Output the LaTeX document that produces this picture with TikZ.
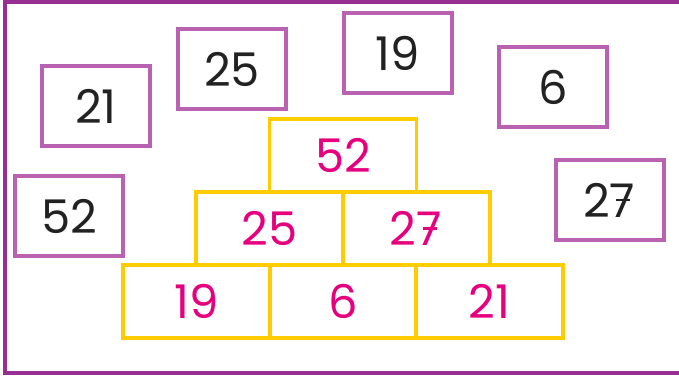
\documentclass[tikz,border=0pt]{standalone}
\usepackage{fontspec}
\setmainfont{Poppins}
\usepackage{xcolor}
\usepackage{tikz}
\usetikzlibrary{positioning}
\definecolor{framepurple}{HTML}{982F92}
\definecolor{cardpurple}{HTML}{BA62B2}
\definecolor{pyryellow}{HTML}{FFCC00}
\definecolor{numpink}{HTML}{E6007E}
\definecolor{numblack}{HTML}{222222}
\newcommand{\barseven}{\rlap{7}\kern0.14em\rule[0.34em]{0.30em}{0.05em}\kern0.14em}
\tikzset{
  cardbox/.style={draw=cardpurple, line width=2.2pt, minimum width=2.7cm, minimum height=2.0cm, inner sep=0pt, text=numblack, font=\fontsize{33}{33}\selectfont},
  pyrbox/.style={draw=pyryellow, line width=2.3pt, minimum width=3.675cm, minimum height=1.825cm, inner sep=0pt, text=numpink, font=\fontsize{33}{33}\selectfont},
  frameline/.style={draw=framepurple, line width=2.4pt}
}
\begin{document}
\begin{tikzpicture}[x=0.025cm,y=-0.025cm]
\useasboundingbox (0,0) rectangle (679,377);
\draw[frameline] (679,2) -- (5,2) -- (5,373) -- (679,373);
% loose cards
\node[cardbox] (c21) at (96,106) {21};
\node[cardbox] (c25) at (232,69) {25};
\node[cardbox] (c19) at (398,53) {19};
\node[cardbox] (c6) at (553,87) {6};
\node[cardbox] (c52) at (69,216) {52};
\node[cardbox] (c27) at (610,200) {2\barseven};
% number pyramid
\node[pyrbox] (top) at (343,155.5) {52};
\node[pyrbox] (midl) at (269.5,228.5) {25};
\node[pyrbox] (midr) at (416.5,228.5) {2\barseven};
\node[pyrbox] (botl) at (196.5,301.5) {19};
\node[pyrbox] (botm) at (343,301.5) {6};
\node[pyrbox] (botr) at (489.5,301.5) {21};
\end{tikzpicture}
\end{document}
